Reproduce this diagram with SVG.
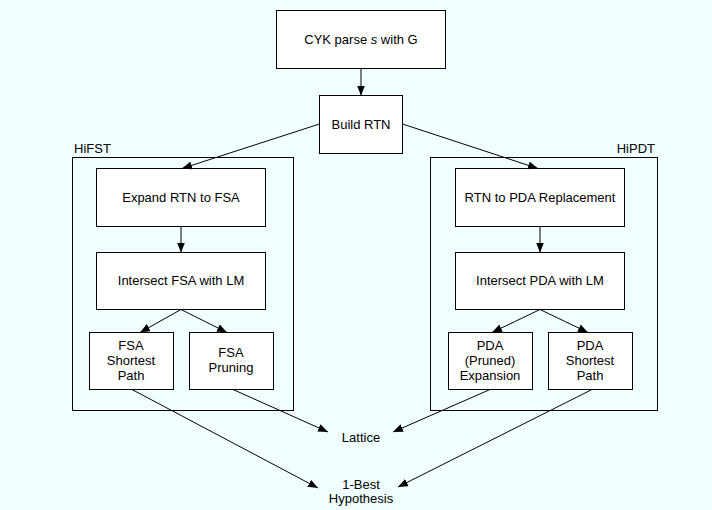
<svg xmlns="http://www.w3.org/2000/svg" width="712" height="510" viewBox="0 0 712 510">
<defs>
<marker id="ah" viewBox="0 0 10 8" refX="10" refY="4" markerWidth="10" markerHeight="8" markerUnits="userSpaceOnUse" orient="auto">
<path d="M0,0 L10,4 L0,8 Z" fill="#000"/>
</marker>
</defs>
<style>
.b{fill:#fff;stroke:#000;stroke-width:1}
.c{fill:none;stroke:#000;stroke-width:1}
.t{font-family:"Liberation Sans",Arial,sans-serif;font-size:13px;fill:#000;text-anchor:middle}
.l{fill:none;stroke:#000;stroke-width:1;marker-end:url(#ah)}
</style>
<rect x="0" y="0" width="712" height="510" fill="#f0ffff"/>
<g id="hifst">
<rect class="c" x="72.5" y="157.5" width="221" height="253"/>
<text class="t" x="74" y="153" style="text-anchor:start">HiFST</text>
</g>
<g id="hipdt">
<rect class="c" x="430.5" y="157.5" width="227" height="253"/>
<text class="t" x="655" y="153" style="text-anchor:end">HiPDT</text>
</g>
<g id="cyk"><rect class="b" x="276.5" y="10.5" width="169" height="58"/><text class="t" x="361" y="44">CYK parse <tspan font-style="italic">s</tspan> with G</text></g>
<g id="build"><rect class="b" x="319.5" y="95.5" width="83" height="58"/><text class="t" x="361" y="129">Build RTN</text></g>
<g id="expand"><rect class="b" x="96.5" y="168.5" width="169" height="58"/><text class="t" x="181" y="202">Expand RTN to FSA</text></g>
<g id="intfsa"><rect class="b" x="96.5" y="252.5" width="169" height="57"/><text class="t" x="181" y="285">Intersect FSA with LM</text></g>
<g id="fsasp"><rect class="b" x="89.5" y="332.5" width="84" height="57"/><text class="t" x="131" y="350">FSA</text><text class="t" x="131" y="365">Shortest</text><text class="t" x="131" y="380">Path</text></g>
<g id="fsapr"><rect class="b" x="189.5" y="332.5" width="84" height="57"/><text class="t" x="231" y="357">FSA</text><text class="t" x="231" y="372">Pruning</text></g>
<g id="rtnpda"><rect class="b" x="455.5" y="168.5" width="169" height="58"/><text class="t" x="540" y="202">RTN to PDA Replacement</text></g>
<g id="intpda"><rect class="b" x="455.5" y="252.5" width="169" height="57"/><text class="t" x="540" y="285">Intersect PDA with LM</text></g>
<g id="pdaexp"><rect class="b" x="448.5" y="332.5" width="84" height="57"/><text class="t" x="490" y="350">PDA</text><text class="t" x="490" y="365">(Pruned)</text><text class="t" x="490" y="380">Expansion</text></g>
<g id="pdasp"><rect class="b" x="548.5" y="332.5" width="84" height="57"/><text class="t" x="590" y="350">PDA</text><text class="t" x="590" y="365">Shortest</text><text class="t" x="590" y="380">Path</text></g>
<g id="lattice"><text class="t" x="361" y="442">Lattice</text></g>
<g id="best"><text class="t" x="361" y="489">1-Best</text><text class="t" x="361" y="503">Hypothesis</text></g>
<g id="connectors">
<line class="l" x1="361" y1="68.5" x2="361" y2="95.5"/>
<line class="l" x1="319.5" y1="124" x2="182" y2="168.5"/>
<line class="l" x1="402.5" y1="124" x2="538" y2="168.5"/>
<line class="l" x1="181" y1="226.5" x2="181" y2="252.5"/>
<line class="l" x1="540" y1="226.5" x2="540" y2="252.5"/>
<line class="l" x1="181" y1="309.5" x2="140" y2="332.5"/>
<line class="l" x1="181" y1="309.5" x2="227" y2="332.5"/>
<line class="l" x1="540" y1="309.5" x2="492" y2="332.5"/>
<line class="l" x1="540" y1="309.5" x2="588" y2="332.5"/>
<line class="l" x1="132" y1="389.5" x2="318" y2="488"/>
<line class="l" x1="233" y1="389.5" x2="328" y2="432"/>
<line class="l" x1="490" y1="389.5" x2="393" y2="432"/>
<line class="l" x1="592" y1="389.5" x2="398" y2="487"/>
</g>
</svg>
